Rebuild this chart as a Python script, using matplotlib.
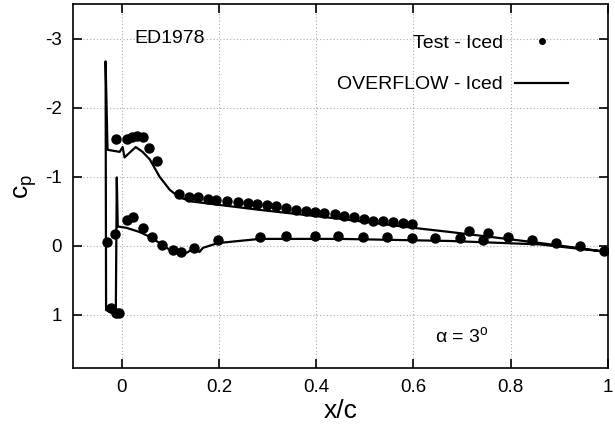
import matplotlib
matplotlib.use('Agg')
import matplotlib.pyplot as plt
from matplotlib.lines import Line2D

plt.rcParams['font.family'] = ['Liberation Sans', 'DejaVu Sans']
plt.rcParams['axes.unicode_minus'] = False
plt.rcParams['mathtext.fontset'] = 'custom'
plt.rcParams['mathtext.rm'] = 'Liberation Sans'
plt.rcParams['mathtext.it'] = 'Liberation Sans'

# test data - upper surface
test_up_x = [-0.012, 0.012, 0.021, 0.031, 0.043, 0.056, 0.072,
             0.117, 0.138, 0.158, 0.177, 0.195, 0.216, 0.239, 0.259, 0.278,
             0.298, 0.318, 0.337, 0.358, 0.378, 0.397, 0.417, 0.438, 0.457,
             0.477, 0.498, 0.517, 0.538, 0.558, 0.578, 0.597,
             0.714, 0.753, 0.794, 0.844, 0.893, 0.942, 0.992]
test_up_cp = [-1.54, -1.54, -1.57, -1.59, -1.57, -1.42, -1.23,
              -0.75, -0.71, -0.70, -0.68, -0.67, -0.65, -0.64, -0.62, -0.61,
              -0.59, -0.57, -0.55, -0.52, -0.51, -0.49, -0.48, -0.46, -0.43,
              -0.42, -0.39, -0.36, -0.36, -0.35, -0.33, -0.32,
              -0.22, -0.19, -0.13, -0.09, -0.04, 0.0, 0.07]

# test data - lower surface and ice horn
test_lo_x = [-0.031, -0.014, 0.010, 0.023, 0.043, 0.062, 0.084, 0.105, 0.123,
             0.148, 0.198, 0.285, 0.337, 0.397, 0.444, 0.496, 0.545, 0.597,
             0.644, 0.695, 0.743,
             -0.021, -0.012, -0.005]
test_lo_cp = [-0.06, -0.17, -0.38, -0.41, -0.26, -0.13, -0.01, 0.06, 0.09,
              0.03, -0.09, -0.13, -0.14, -0.14, -0.14, -0.13, -0.13, -0.12,
              -0.12, -0.12, -0.09,
              0.90, 0.97, 0.97]

# OVERFLOW line, TE -> upper -> ice horn -> lower -> TE
cfd_x = [1.0, 0.85, 0.675, 0.6, 0.45, 0.284, 0.146, 0.119, 0.099, 0.078,
         0.058, 0.043, 0.029, 0.012, 0.006, 0.002, -0.004, -0.029, -0.033,
         -0.032, -0.020, -0.012, -0.010, -0.008, 0.010, 0.037, 0.058, 0.078,
         0.099, 0.126, 0.134, 0.150, 0.160, 0.167, 0.198, 0.284, 0.45, 0.675,
         0.86, 1.0]
cfd_cp = [0.09, -0.05, -0.20, -0.26, -0.39, -0.52, -0.64, -0.70, -0.81, -1.0,
          -1.25, -1.36, -1.43, -1.32, -1.28, -1.43, -1.36, -1.39, -2.67,
          0.93, 0.97, 0.97, -0.99, -0.28, -0.26, -0.20, -0.13, -0.04,
          0.06, 0.13, 0.10, 0.03, 0.09, 0.03, -0.04, -0.10, -0.10, -0.07,
          -0.02, 0.09]

xticks = [0, 0.2, 0.4, 0.6, 0.8, 1]
xticklabels = ['0', '0.2', '0.4', '0.6', '0.8', '1']
yticks = [-3, -2, -1, 0, 1]

fig = plt.figure(figsize=(6.15, 4.32), dpi=100)
ax = fig.add_axes([0.1187, 0.148, 0.87, 0.8426])

ax.plot(cfd_x, cfd_cp, color='black', lw=1.6, zorder=3)
ax.plot(test_up_x, test_up_cp, 'o', color='black', ms=6.5, zorder=4)
ax.plot(test_lo_x, test_lo_cp, 'o', color='black', ms=6.5, zorder=4)

ax.set_xlim(-0.1, 1.0)
ax.set_ylim(1.77, -3.5)
ax.set_xticks(xticks)
ax.set_xticklabels(xticklabels)
ax.set_yticks(yticks)
ax.tick_params(direction='in', length=6.5, width=1.2, labelsize=13.5,
               top=True, right=True, pad=8)
for s in ax.spines.values():
    s.set_linewidth(1.2)
ax.grid(True, color='#aaaaaa', linestyle=(0, (1, 2)), lw=0.8)

ax.set_xlabel('x/c', fontsize=19, labelpad=2)
ax.set_ylabel(r'c$_\mathrm{p}$', fontsize=19, labelpad=4)

ax.text(0.027, -3.0, 'ED1978', fontsize=14, va='center')
ax.text(0.644, 1.30, r'$\alpha$ = 3$^\mathrm{o}$', fontsize=14, va='center')

handles = [Line2D([], [], marker='o', ls='none', color='black', ms=4),
           Line2D([], [], color='black', lw=1.6)]
ax.legend(handles, ['Test - Iced', 'OVERFLOW - Iced'], loc='upper right',
          bbox_to_anchor=(0.925, 0.918), frameon=False, markerfirst=False,
          fontsize=14, handlelength=2.7, handletextpad=0.65, labelspacing=1.25,
          borderpad=0, borderaxespad=0)

fig.savefig('out.png', dpi=100)
